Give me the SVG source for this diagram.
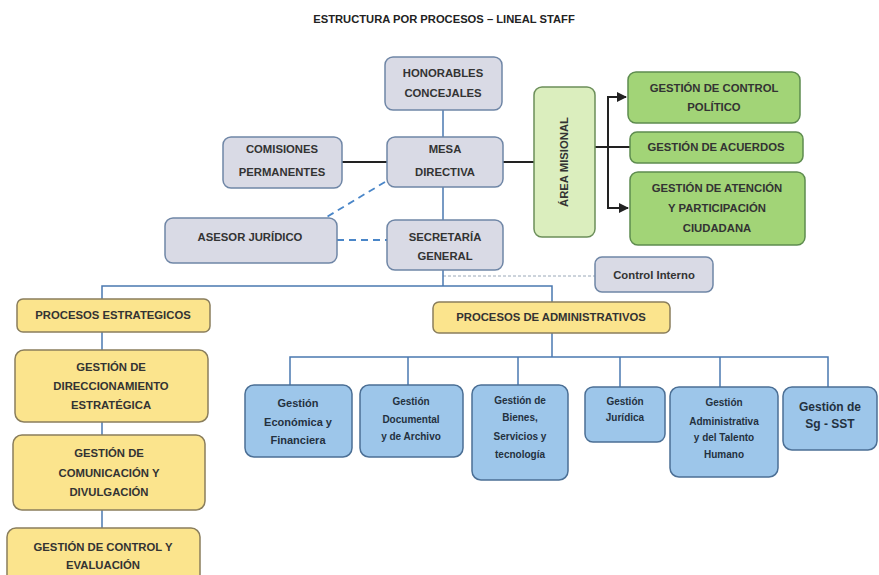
<svg xmlns="http://www.w3.org/2000/svg" width="879" height="575" viewBox="0 0 879 575">
<style>
  text { font-family: "Liberation Sans", Arial, sans-serif; font-weight: bold; text-anchor: middle; fill: #333; }
  .title { font-size: 11.2px; fill: #222; }
  .t { font-size: 11.3px; }
  .b { font-size: 11px; fill: #24313f; }
  .bs { font-size: 10px; fill: #24313f; }
  .bl2 { font-size: 12px; fill: #24313f; }
  .grey { fill: #d9dae5; stroke: #6f86a6; stroke-width: 1.5; }
  .green { fill: #a2d477; stroke: #5e8c4f; stroke-width: 1.5; }
  .lgreen { fill: #dbeebe; stroke: #6c8f5a; stroke-width: 1.5; }
  .yellow { fill: #fbe48d; stroke: #8a7e5c; stroke-width: 1.5; }
  .blue { fill: #9dc6ea; stroke: #4b6f95; stroke-width: 1.5; }
  .bl { stroke: #4a78b0; stroke-width: 1.5; fill: none; }
  .blk { stroke: #222; stroke-width: 2; fill: none; }
  .dash { stroke: #4a86c8; stroke-width: 1.8; stroke-dasharray: 7 5; fill: none; }
  .dot { stroke: #9aa8b8; stroke-width: 1; stroke-dasharray: 3 2; fill: none; }
</style>
<defs>
  <marker id="arr" viewBox="0 0 10 10" refX="9" refY="5" markerWidth="5" markerHeight="5" orient="auto">
    <path d="M0,0 L10,5 L0,10 z" fill="#222"/>
  </marker>
</defs>

<text class="title" x="444" y="23">ESTRUCTURA POR PROCESOS – LINEAL STAFF</text>

<g id="connectors">
  <line class="bl" x1="443" y1="110" x2="443" y2="137"/>
  <line class="bl" x1="443" y1="187" x2="443" y2="220"/>
  <line class="blk" x1="342" y1="162" x2="387" y2="162"/>
  <line class="blk" x1="503" y1="162" x2="534" y2="162"/>
  <line class="blk" x1="595" y1="147" x2="630" y2="147"/>
  <polyline class="blk" points="608,97 608,208 628,208" marker-end="url(#arr)"/>
  <line class="blk" x1="607" y1="97" x2="626" y2="97" marker-end="url(#arr)"/>
  <line class="dash" x1="385" y1="182" x2="325" y2="218"/>
  <line class="dash" x1="337" y1="240" x2="387" y2="240"/>
  <line class="dot" x1="443" y1="276" x2="595" y2="276"/>
  <line class="bl" x1="443" y1="270" x2="443" y2="286"/>
  <polyline class="bl" points="102,299 102,286 552,286 552,302"/>
  <line class="bl" x1="102" y1="332" x2="102" y2="350"/>
  <line class="bl" x1="102" y1="422" x2="102" y2="435"/>
  <line class="bl" x1="102" y1="510" x2="102" y2="528"/>
  <line class="bl" x1="552" y1="333" x2="552" y2="357"/>
  <polyline class="bl" points="290,385 290,357 828,357 828,387"/>
  <line class="bl" x1="408" y1="357" x2="408" y2="385"/>
  <line class="bl" x1="518" y1="357" x2="518" y2="385"/>
  <line class="bl" x1="620" y1="357" x2="620" y2="387"/>
  <line class="bl" x1="720" y1="357" x2="720" y2="387"/>
</g>

<g id="honorables">
  <rect class="grey" x="385" y="57" width="117" height="53" rx="8"/>
  <text class="t" x="443" y="77">HONORABLES</text>
  <text class="t" x="443" y="97">CONCEJALES</text>
</g>
<g id="mesa">
  <rect class="grey" x="387" y="137" width="116" height="50" rx="8"/>
  <text class="t" x="445" y="153">MESA</text>
  <text class="t" x="445" y="176">DIRECTIVA</text>
</g>
<g id="comisiones">
  <rect class="grey" x="223" y="137" width="119" height="51" rx="8"/>
  <text class="t" x="282" y="153">COMISIONES</text>
  <text class="t" x="282" y="176">PERMANENTES</text>
</g>
<g id="asesor">
  <rect class="grey" x="165" y="218" width="172" height="45" rx="8"/>
  <text class="t" x="250" y="241">ASESOR JURÍDICO</text>
</g>
<g id="secretaria">
  <rect class="grey" x="387" y="220" width="116" height="50" rx="8"/>
  <text class="t" x="445" y="241">SECRETARÍA</text>
  <text class="t" x="445" y="260">GENERAL</text>
</g>
<g id="control-interno">
  <rect class="grey" x="595" y="257" width="118" height="35" rx="7"/>
  <text class="t" x="654" y="279">Control Interno</text>
</g>
<g id="area-misional">
  <rect class="lgreen" x="534" y="87" width="61" height="150" rx="8"/>
  <text class="t" x="0" y="0" transform="translate(568,162) rotate(-90)">ÁREA MISIONAL</text>
</g>
<g id="control-politico">
  <rect class="green" x="628" y="72" width="172" height="51" rx="8"/>
  <text class="t" x="714" y="92">GESTIÓN DE CONTROL</text>
  <text class="t" x="714" y="111">POLÍTICO</text>
</g>
<g id="acuerdos">
  <rect class="green" x="630" y="132" width="173" height="31" rx="7"/>
  <text class="t" x="716" y="151">GESTIÓN DE ACUERDOS</text>
</g>
<g id="atencion">
  <rect class="green" x="630" y="172" width="175" height="73" rx="8"/>
  <text class="t" x="717" y="192">GESTIÓN DE ATENCIÓN</text>
  <text class="t" x="717" y="212">Y PARTICIPACIÓN</text>
  <text class="t" x="717" y="232">CIUDADANA</text>
</g>
<g id="procesos-estrategicos">
  <rect class="yellow" x="17" y="299" width="193" height="33" rx="6"/>
  <text class="t" x="113" y="319">PROCESOS ESTRATEGICOS</text>
</g>
<g id="procesos-administrativos">
  <rect class="yellow" x="433" y="302" width="237" height="31" rx="6"/>
  <text class="t" x="551" y="321">PROCESOS DE ADMINISTRATIVOS</text>
</g>
<g id="direccionamiento">
  <rect class="yellow" x="15" y="350" width="193" height="72" rx="9"/>
  <text class="t" x="111" y="371">GESTIÓN DE</text>
  <text class="t" x="111" y="390">DIRECCIONAMIENTO</text>
  <text class="t" x="111" y="409">ESTRATÉGICA</text>
</g>
<g id="comunicacion">
  <rect class="yellow" x="13" y="435" width="192" height="75" rx="9"/>
  <text class="t" x="109" y="457">GESTIÓN DE</text>
  <text class="t" x="109" y="477">COMUNICACIÓN Y</text>
  <text class="t" x="109" y="496">DIVULGACIÓN</text>
</g>
<g id="control-evaluacion">
  <rect class="yellow" x="7" y="528" width="193" height="60" rx="9"/>
  <text class="t" x="103" y="551">GESTIÓN DE CONTROL Y</text>
  <text class="t" x="103" y="569">EVALUACIÓN</text>
</g>
<g id="economica">
  <rect class="blue" x="245" y="385" width="107" height="72" rx="9"/>
  <text class="b" x="298" y="407">Gestión</text>
  <text class="b" x="298" y="426">Económica y</text>
  <text class="b" x="298" y="444">Financiera</text>
</g>
<g id="documental">
  <rect class="blue" x="360" y="385" width="103" height="72" rx="9"/>
  <text class="bs" x="411" y="405">Gestión</text>
  <text class="bs" x="411" y="423">Documental</text>
  <text class="bs" x="411" y="440">y de Archivo</text>
</g>
<g id="bienes">
  <rect class="blue" x="472" y="385" width="96" height="95" rx="9"/>
  <text class="bs" x="520" y="404">Gestión de</text>
  <text class="bs" x="520" y="421">Bienes,</text>
  <text class="bs" x="520" y="440">Servicios y</text>
  <text class="bs" x="520" y="458">tecnología</text>
</g>
<g id="juridica">
  <rect class="blue" x="585" y="387" width="80" height="55" rx="8"/>
  <text class="bs" x="625" y="405">Gestión</text>
  <text class="bs" x="625" y="421">Jurídica</text>
</g>
<g id="administrativa">
  <rect class="blue" x="670" y="387" width="108" height="90" rx="9"/>
  <text class="bs" x="724" y="406">Gestión</text>
  <text class="bs" x="724" y="425">Administrativa</text>
  <text class="bs" x="724" y="441">y del Talento</text>
  <text class="bs" x="724" y="458">Humano</text>
</g>
<g id="sg-sst">
  <rect class="blue" x="783" y="387" width="94" height="63" rx="9"/>
  <text class="bl2" x="830" y="411">Gestión de</text>
  <text class="bl2" x="830" y="428">Sg - SST</text>
</g>
</svg>
